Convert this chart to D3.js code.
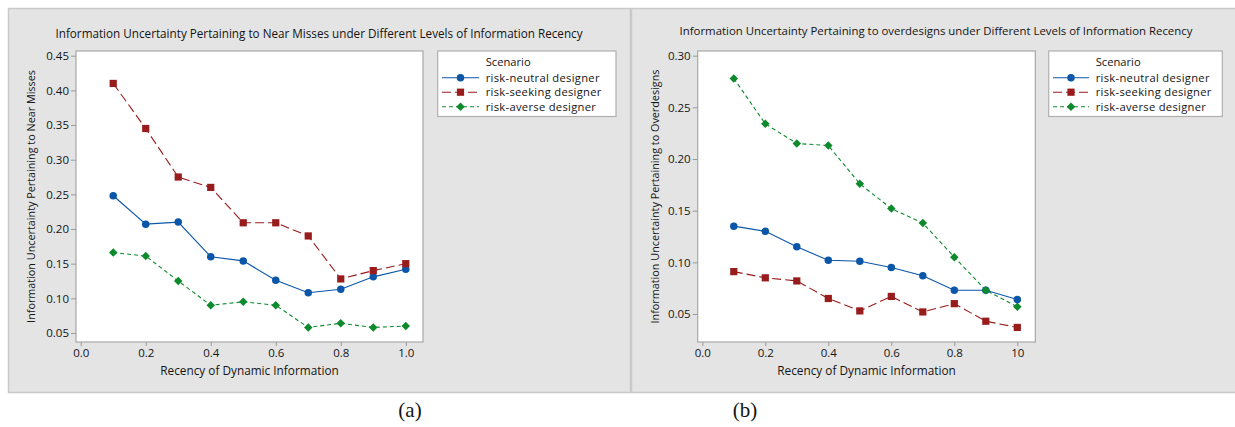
<!DOCTYPE html>
<html><head><meta charset="utf-8">
<script src="https://cdn.jsdelivr.net/npm/d3@7"></script>
<style>body{margin:0;background:#fff;} text{font-family:"Open Sans","Noto Sans",sans-serif;fill:#141414;}</style>
</head><body>
<svg id="c" width="1235" height="427"></svg>
<script>
const recency = [0.1,0.2,0.3,0.4,0.5,0.6,0.7,0.8,0.9,1.0];
const seriesNames = ["risk-neutral designer","risk-seeking designer","risk-averse designer"];
// Panel (a): near misses
const nearNeutral = [0.248,0.207,0.210,0.160,0.154,0.126,0.108,0.113,0.131,0.142];
const nearSeeking = [0.410,0.345,0.275,0.260,0.209,0.209,0.190,0.128,0.140,0.150];
const nearAverse  = [0.166,0.161,0.125,0.090,0.095,0.090,0.058,0.064,0.058,0.060];
// Panel (b): overdesigns
const overNeutral = [0.135,0.130,0.115,0.102,0.101,0.095,0.087,0.073,0.073,0.064];
const overSeeking = [0.091,0.085,0.082,0.065,0.053,0.067,0.052,0.060,0.043,0.037];
const overAverse  = [0.278,0.234,0.215,0.213,0.176,0.152,0.138,0.105,0.073,0.057];
const xTicks = [0,0.2,0.4,0.6,0.8,1.0];
const xTickLabelsA = ["0.0","0.2","0.4","0.6","0.8","1.0"];
const xTickLabelsB = ["0.0","0.2","0.4","0.6","0.8","10"];
const yTicksA = [0.05,0.10,0.15,0.20,0.25,0.30,0.35,0.40,0.45];
const yTicksB = [0.05,0.10,0.15,0.20,0.25,0.30];

const colors = ["#0a56a8","#981c1c","#0d8a2c"];
const dashes = [null,"9,4","4,3"];
const shapes = [d3.symbolCircle,d3.symbolSquare,d3.symbolSquare];
const sizes = [44,52,36];
const rots = [0,0,45];

const svg = d3.select("#c");

svg.append("rect").attr("x",8.5).attr("y",8.5).attr("width",622).attr("height",384)
  .attr("fill","#e4e4e4").attr("stroke","#c9c9c9").attr("stroke-width",1.5);
svg.append("rect").attr("x",631.5).attr("y",8.5).attr("width",620).attr("height",384)
  .attr("fill","#e4e4e4").attr("stroke","#c9c9c9").attr("stroke-width",1.5);

function panel(cfg){
  const x = d3.scaleLinear().domain(cfg.xdom).range([cfg.l,cfg.r]);
  const y = d3.scaleLinear().domain(cfg.ydom).range([cfg.b,cfg.t]);
  const g = svg.append("g");
  g.append("rect").attr("x",cfg.l).attr("y",cfg.t).attr("width",cfg.r-cfg.l).attr("height",cfg.b-cfg.t)
    .attr("fill","#fff").attr("stroke","#a8a8a8").attr("stroke-width",1.2);
  const ya = g.append("g").attr("transform",`translate(${cfg.l},0)`)
    .call(d3.axisLeft(y).tickValues(cfg.yTicks).tickFormat(d3.format(".2f")).tickSize(5).tickPadding(2));
  ya.select(".domain").remove();
  ya.selectAll("line").attr("stroke","#9a9a9a");
  ya.selectAll("text").attr("font-size",11.5).attr("fill","#141414").style("font-family","'Open Sans',sans-serif");
  const xa = g.append("g").attr("transform",`translate(0,${cfg.b})`)
    .call(d3.axisBottom(x).tickValues(xTicks).tickFormat((d,i)=>cfg.xLabels[i]).tickSize(4).tickPadding(3));
  xa.select(".domain").remove();
  xa.selectAll("line").attr("stroke","#9a9a9a");
  xa.selectAll("text").attr("font-size",11.5).attr("fill","#141414").style("font-family","'Open Sans',sans-serif");
  g.append("text").attr("x",cfg.titleX).attr("y",cfg.titleY).attr("text-anchor","middle")
    .attr("font-size",cfg.titleSize).text(cfg.title);
  g.append("text").attr("x",(cfg.l+cfg.r)/2).attr("y",375).attr("text-anchor","middle")
    .attr("font-size",11.8).text("Recency of Dynamic Information");
  g.append("text").attr("transform",`translate(${cfg.ylabX},${(cfg.t+cfg.b)/2}) rotate(-90)`)
    .attr("text-anchor","middle").attr("font-size",10.8).text(cfg.ylab);
  const line = d3.line().x((d,i)=>x(recency[i])).y(d=>y(d));
  cfg.series.forEach((s,k)=>{
    g.append("path").datum(s).attr("d",line).attr("fill","none").attr("stroke",colors[k])
      .attr("stroke-width",1.1).attr("stroke-dasharray",dashes[k]);
    g.selectAll(null).data(s).enter().append("path")
      .attr("d",d3.symbol().type(shapes[k]).size(sizes[k]))
      .attr("transform",(d,i)=>`translate(${x(recency[i])},${y(d)}) rotate(${rots[k]})`).attr("fill",colors[k]);
  });
  const L = cfg.leg;
  g.append("rect").attr("x",L.x).attr("y",51).attr("width",L.w).attr("height",65.5)
    .attr("fill","#fff").attr("stroke","#b0b0b0").attr("stroke-width",1.2);
  g.append("text").attr("x",L.tx).attr("y",65.5).attr("font-size",11.2).text("Scenario");
  seriesNames.forEach((n,k)=>{
    const cy = 77.7 + k*14.5;
    g.append("line").attr("x1",L.lx1).attr("x2",L.lx2).attr("y1",cy).attr("y2",cy)
      .attr("stroke",colors[k]).attr("stroke-width",1.1).attr("stroke-dasharray",dashes[k]);
    g.append("path").attr("d",d3.symbol().type(shapes[k]).size(sizes[k]))
      .attr("transform",`translate(${(L.lx1+L.lx2)/2},${cy}) rotate(${rots[k]})`).attr("fill",colors[k]);
    g.append("text").attr("x",L.tx).attr("y",cy+4).attr("font-size",11.2).attr("letter-spacing",0.3).text(n);
  });
}

panel({l:76,r:423,t:51,b:342, xdom:[-0.0145,1.053], ydom:[0.037,0.4568],
  yTicks:yTicksA, xLabels:xTickLabelsA, series:[nearNeutral,nearSeeking,nearAverse],
  title:"Information Uncertainty Pertaining to Near Misses under Different Levels of Information Recency",
  titleX:319, titleY:38, titleSize:11.7, ylab:"Information Uncertainty Pertaining to Near Misses", ylabX:35,
  leg:{x:437.7,w:178.3,tx:485.7,lx1:442,lx2:479}});
panel({l:697.7,r:1035.3,t:51,b:342, xdom:[-0.0146,1.0571], ydom:[0.0229,0.3045],
  yTicks:yTicksB, xLabels:xTickLabelsB, series:[overNeutral,overSeeking,overAverse],
  title:"Information Uncertainty Pertaining to overdesigns under Different Levels of Information Recency",
  titleX:936, titleY:34.5, titleSize:11.4, ylab:"Information Uncertainty Pertaining to Overdesigns", ylabX:659,
  leg:{x:1048.7,w:173.6,tx:1095.7,lx1:1053,lx2:1089}});

svg.append("text").attr("x",410).attr("y",417).attr("text-anchor","middle")
  .style("font-family","'Liberation Serif','Times New Roman',serif").attr("font-size",21).attr("fill","#000").text("(a)");
svg.append("text").attr("x",745).attr("y",417).attr("text-anchor","middle")
  .style("font-family","'Liberation Serif','Times New Roman',serif").attr("font-size",21).attr("fill","#000").text("(b)");
</script>
</body></html>
